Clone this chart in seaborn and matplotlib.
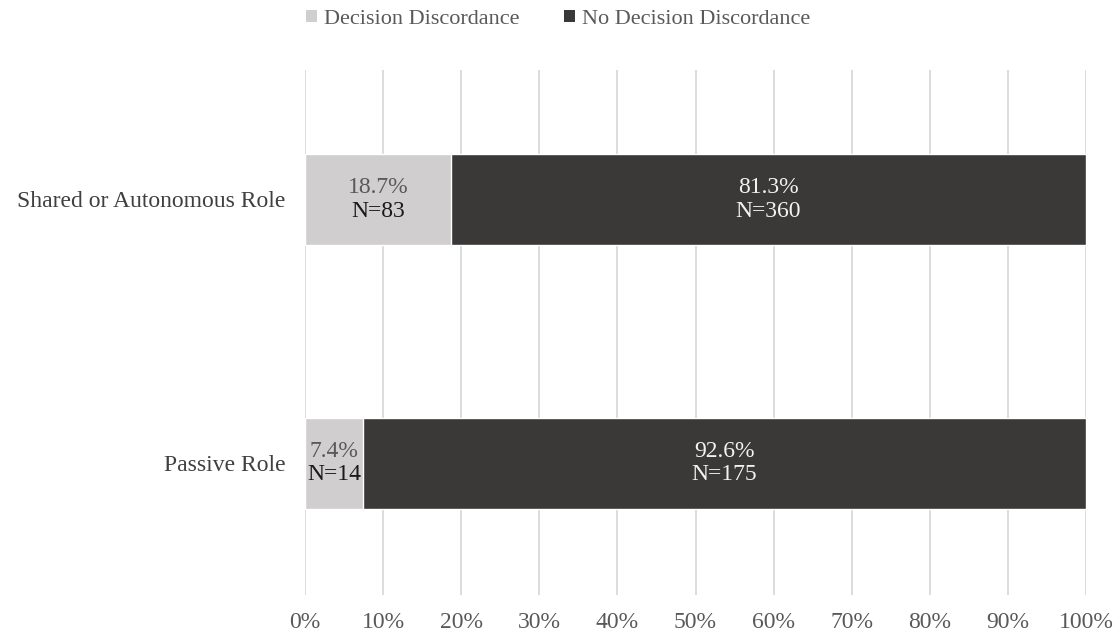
import matplotlib
matplotlib.use("Agg")
import matplotlib.pyplot as plt
import seaborn as sns
import pandas as pd
from matplotlib.patches import Patch

roles = ["Shared or Autonomous Role", "Passive Role"]
discord_pct = [18.7, 7.4]
no_discord_pct = [81.3, 92.6]
discord_n = [83, 14]
no_discord_n = [360, 175]
xtick_vals = [0, 10, 20, 30, 40, 50, 60, 70, 80, 90, 100]
xtick_labels = [f"{v}%" for v in xtick_vals]

light = "#d0cece"
dark = "#3b3838"

sns.set_theme(style="white")
plt.rcParams["font.family"] = ["Liberation Serif", "DejaVu Serif"]

df = pd.DataFrame({
    "role": roles,
    "discord": discord_pct,
    "total": [a + b for a, b in zip(discord_pct, no_discord_pct)],
})

fig = plt.figure(figsize=(11.18, 6.36), dpi=100)
ax = fig.add_axes([0.2728, 0.0645, 0.6986, 0.8254])

# stacked bars: full-width dark bar, light segment drawn over its left part
sns.barplot(data=df, y="role", x="total", color=dark, width=0.345,
            saturation=1, ax=ax, zorder=2)
sns.barplot(data=df, y="role", x="discord", color=light, width=0.345,
            saturation=1, ax=ax, zorder=3)

fs = 17
for i in range(len(roles)):
    xc = discord_pct[i] / 2
    ax.text(xc, i - 0.045, f"{discord_pct[i]}%", ha="center", va="center",
            fontsize=fs, color="#595959", zorder=5)
    ax.text(xc, i + 0.045, f"N={discord_n[i]}", ha="center", va="center",
            fontsize=fs, color="#1a1a1a", zorder=5)
    xc2 = discord_pct[i] + no_discord_pct[i] / 2
    ax.text(xc2, i - 0.045, f"{no_discord_pct[i]}%", ha="center", va="center",
            fontsize=fs, color="#f2f2f2", zorder=5)
    ax.text(xc2, i + 0.045, f"N={no_discord_n[i]}", ha="center", va="center",
            fontsize=fs, color="#f2f2f2", zorder=5)

ax.set_xlim(0, 100)
ax.set_ylim(1.5, -0.49)
ax.set_xticks(xtick_vals)
ax.set_xticklabels(xtick_labels, fontsize=fs, color="#595959")
ax.tick_params(axis="y", labelsize=fs, colors="#404040", length=0, pad=14)
ax.tick_params(axis="x", length=0, pad=12)
ax.xaxis.grid(True, color="#d9d9d9", linewidth=1.3, zorder=0)
ax.set_axisbelow(True)
ax.set_xlabel("")
ax.set_ylabel("")
for s in ax.spines.values():
    s.set_visible(False)

handles = [Patch(facecolor=light, edgecolor="none", label="Decision Discordance"),
           Patch(facecolor=dark, edgecolor="none", label="No Decision Discordance")]
fig.legend(handles=handles, loc="upper center", bbox_to_anchor=(0.499, 1.016),
           ncol=2, frameon=False, fontsize=16, handlelength=0.5,
           handleheight=0.5, handletextpad=0.3, columnspacing=2.0,
           labelcolor="#595959")

fig.savefig("out.png", dpi=100, facecolor="white")
